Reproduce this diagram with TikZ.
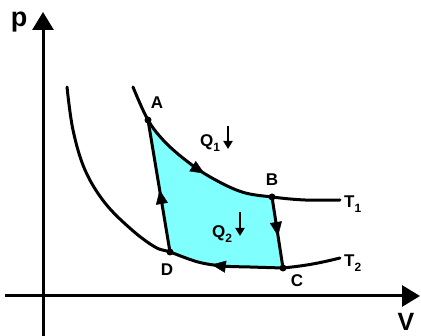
\documentclass[tikz,border=0pt]{standalone}
\usepackage{fontspec}
\setmainfont{Liberation Sans}
\usetikzlibrary{arrows.meta,decorations.markings}
\definecolor{cyclefill}{RGB}{128,255,255}
\newcommand{\lbl}[1]{\fontsize{17}{18}\selectfont\bfseries #1}
\newcommand{\subn}[1]{\raisebox{-5pt}{\fontsize{12}{12}\selectfont\bfseries #1}}
\tikzset{
  axisline/.style={line width=3pt,-{Triangle[length=18pt,width=21pt]}},
  curveline/.style={line width=3pt,line cap=round},
  dotpt/.style={circle,fill=black,inner sep=0pt,minimum size=7pt},
  ptlabel/.style={inner sep=0pt,font=\lbl},
  midarrow/.style={postaction={decorate},decoration={markings,
    mark=at position #1 with {\arrow{Triangle[length=14pt,width=12pt]}}}},
  qarrow/.style={line width=1.8pt,-{Triangle[length=8pt,width=9pt]}}
}
\begin{document}
\begin{tikzpicture}[x=1pt,y=-1pt]
\useasboundingbox (0,0) rectangle (421,336);
% points
\coordinate (A) at (148,120);
\coordinate (B) at (272,197);
\coordinate (C) at (283,268);
\coordinate (D) at (170,252);
\coordinate (yb) at (43,336);
\coordinate (yt) at (43,12);
\coordinate (xl) at (5,296);
\coordinate (xr) at (420,296);
\coordinate (t1s) at (133,87);
\coordinate (t1e) at (340,200);
\coordinate (t2s) at (67,87);
\coordinate (t2e) at (340,258);
% fill
\fill[cyclefill] plot[smooth,tension=0.6] coordinates {(A) (165,142) (188,162) (212,178) (242,192) (B)}
  -- (C) -- plot[smooth,tension=0.6] coordinates {(C) (250,267) (223,266) (198,262) (D)} -- cycle;
% axes
\draw[axisline] (yb) -- (yt);
\draw[axisline] (xl) -- (xr);
% isotherms
\draw[curveline] plot[smooth,tension=0.6] coordinates {(t1s) (A) (165,142) (188,162) (212,178) (242,192) (B) (305,200) (t1e)};
\draw[curveline] plot[smooth,tension=0.6] coordinates {(t2s) (73,130) (85,170) (105,203) (132,230) (155,247) (D) (198,262) (223,266) (250,267) (C)};
\draw[curveline] (C) to[bend right=4] (t2e);
% cycle sides
\draw[curveline] (B) -- (C);
\draw[curveline] (D) -- (A);
% direction arrows
\path[midarrow=0.52] plot[smooth,tension=0.6] coordinates {(A) (165,142) (188,162) (212,178) (242,192) (B)};
\path[midarrow=0.55] (B) -- (C);
\path[midarrow=0.62] plot[smooth,tension=0.6] coordinates {(C) (250,267) (223,266) (198,262) (D)};
\path[midarrow=0.47] (D) -- (A);
% dots
\node[dotpt] (dA) at (A) {};
\node[dotpt] (dB) at (B) {};
\node[dotpt] (dC) at (C) {};
\node[dotpt] (dD) at (D) {};
% labels
\node[ptlabel] (lA) at (157,103) {A};
\node[ptlabel] (lB) at (272,180) {B};
\node[ptlabel] (lC) at (297,281) {C};
\node[ptlabel] (lD) at (167,270) {D};
\node[ptlabel,anchor=west] (lT1) at (344,204) {T\subn{1}};
\node[ptlabel,anchor=west] (lT2) at (344,263) {T\subn{2}};
\node[ptlabel,anchor=west] (lQ1) at (200,143) {Q\subn{1}};
\node[ptlabel,anchor=west] (lQ2) at (212,234) {Q\subn{2}};
\coordinate (q1t) at (228,126);
\coordinate (q1b) at (228,149);
\coordinate (q2t) at (240,212);
\coordinate (q2b) at (240,236);
\draw[qarrow] (q1t) -- (q1b);
\draw[qarrow] (q2t) -- (q2b);
\node[inner sep=0pt,font=\fontsize{27}{28}\selectfont\bfseries] (lp) at (19,22) {p};
\node[inner sep=0pt,anchor=south,font=\fontsize{25}{26}\selectfont\bfseries] (lV) at (406,331) {V};
\end{tikzpicture}
\end{document}
